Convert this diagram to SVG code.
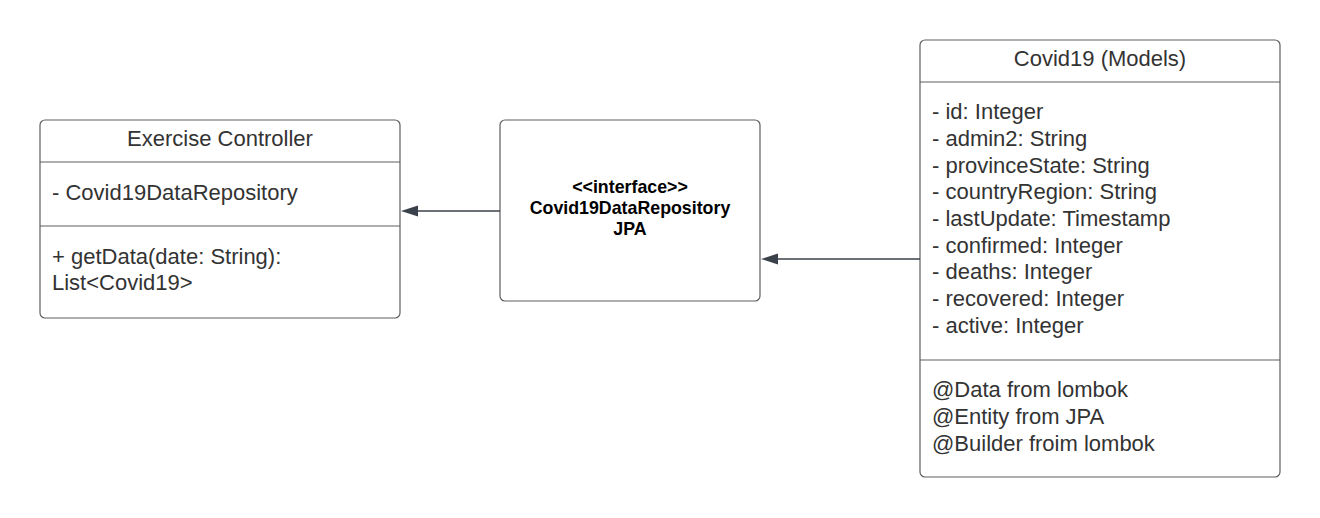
<svg xmlns="http://www.w3.org/2000/svg" width="1320" height="518" viewBox="0 0 1320 518">
<style>
.box{fill:#fff;stroke:#5e5e5e;stroke-width:1.2}
.div{stroke:#5e5e5e;stroke-width:1.2}
.t{font-family:"Liberation Sans",Arial,sans-serif;font-size:22px;fill:#333}
.c{text-anchor:middle}
.b{font-family:"Liberation Sans",Arial,sans-serif;font-size:17.8px;font-weight:bold;fill:#000;text-anchor:middle}
.conn{stroke:#3a414a;stroke-width:1.3;fill:none}
.head{fill:#3a414a}
</style>
<rect width="1320" height="518" fill="#fff"/>
<g id="exercise-controller">
<rect class="box" x="40" y="120" width="360" height="198" rx="5"/>
<line class="div" x1="40" y1="162" x2="400" y2="162"/>
<line class="div" x1="40" y1="226" x2="400" y2="226"/>
<text class="t c" x="220" y="146">Exercise Controller</text>
<text class="t" x="52" y="200">- Covid19DataRepository</text>
<text class="t" x="52" y="264">+ getData(date: String):</text>
<text class="t" x="52" y="290">List&lt;Covid19&gt;</text>
</g>
<g id="repository">
<rect class="box" x="500" y="120" width="260" height="181" rx="5"/>
<text class="b" x="630" y="193">&lt;&lt;interface&gt;&gt;</text>
<text class="b" x="630" y="214">Covid19DataRepository</text>
<text class="b" x="630" y="235">JPA</text>
</g>
<g id="covid19-model">
<rect class="box" x="920" y="40" width="360" height="437" rx="5"/>
<line class="div" x1="920" y1="82" x2="1280" y2="82"/>
<line class="div" x1="920" y1="360" x2="1280" y2="360"/>
<text class="t c" x="1100" y="66">Covid19 (Models)</text>
<text class="t" x="932" y="119">- id: Integer</text>
<text class="t" x="932" y="146">- admin2: String</text>
<text class="t" x="932" y="173">- provinceState: String</text>
<text class="t" x="932" y="199">- countryRegion: String</text>
<text class="t" x="932" y="226">- lastUpdate: Timestamp</text>
<text class="t" x="932" y="253">- confirmed: Integer</text>
<text class="t" x="932" y="279">- deaths: Integer</text>
<text class="t" x="932" y="306">- recovered: Integer</text>
<text class="t" x="932" y="333">- active: Integer</text>
<text class="t" x="932" y="397">@Data from lombok</text>
<text class="t" x="932" y="424">@Entity from JPA</text>
<text class="t" x="932" y="451">@Builder froim lombok</text>
</g>
<g id="connectors">
<line class="conn" x1="500" y1="211" x2="416" y2="211"/>
<path class="head" d="M401,211 L418,205.5 L418,216.5 Z"/>
<line class="conn" x1="920" y1="259" x2="776" y2="259"/>
<path class="head" d="M761,259 L778,253.5 L778,264.5 Z"/>
</g>
</svg>
